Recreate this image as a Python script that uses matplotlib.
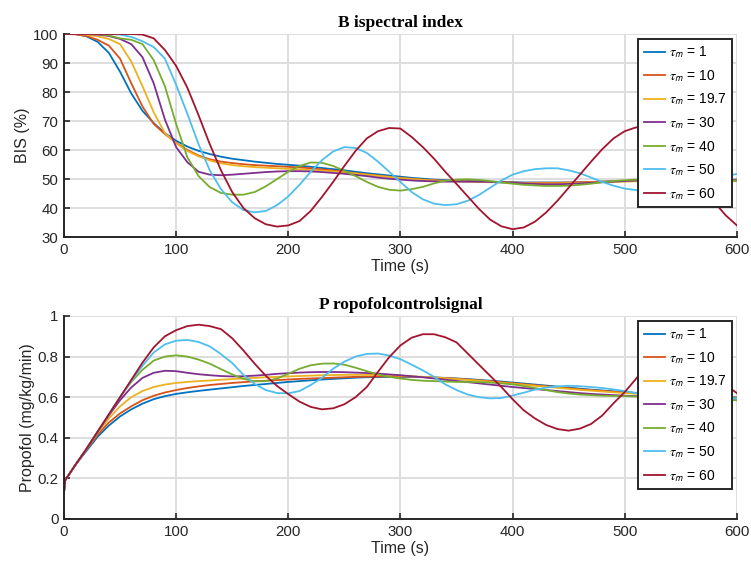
import numpy as np
import matplotlib
matplotlib.use('Agg')
import matplotlib.pyplot as plt

# time grid (s): initial jump at t=0..1, then every 10 s
time_s = np.r_[0, 1, np.arange(10, 601, 10)]

tau_labels = ['1', '10', '19.7', '30', '40', '50', '60']
colors = ['#0072BD', '#D95319', '#EDB120', '#7E2F8E', '#77AC30', '#4DBEEE', '#A2142F']

# ---- Bispectral index (%) ----
bis_tau1 = [100, 100, 100, 99.2, 97.3, 93.5, 87, 79.5, 73.5, 69.3, 65.8, 63.2, 61.2, 59.7, 58.6, 57.7,
            57, 56.5, 56, 55.6, 55.2, 54.9, 54.6, 54.2, 53.8, 53.4, 53, 52.5, 52, 51.6, 51.2, 50.8,
            50.4, 50.1, 49.8, 49.6, 49.4, 49.3, 49.2, 49.1, 49, 48.9, 48.8, 48.8, 48.8, 48.8, 48.8,
            48.9, 49, 49.1, 49.2, 49.3, 49.4, 49.5, 49.6, 49.7, 49.7, 49.8, 49.8, 49.8, 49.8, 49.8]
bis_tau10 = [100, 100, 99.9, 99.3, 98, 96, 91.5, 83, 75, 69, 65.5, 62.5, 60, 58.1, 56.8, 56,
             55.5, 55.1, 54.8, 54.6, 54.4, 54.2, 54, 53.7, 53.3, 52.9, 52.5, 52, 51.6, 51.2, 50.8, 50.4,
             50.1, 49.8, 49.6, 49.4, 49.3, 49.2, 49.1, 49, 48.9, 48.8, 48.7, 48.7, 48.7, 48.7, 48.8,
             48.9, 49, 49.1, 49.2, 49.3, 49.3, 49.4, 49.4, 49.5, 49.5, 49.5, 49.6, 49.6, 49.6, 49.6]
bis_tau19 = [100, 100, 100, 99.8, 99.2, 98.3, 96.5, 90.5, 82, 73, 65.8, 62.3, 59.7, 57.8, 56.4, 55.4,
             54.8, 54.4, 54.1, 53.9, 53.7, 53.5, 53.3, 53.1, 52.9, 52.6, 52.3, 51.9, 51.5, 51.1, 50.7, 50.3,
             50, 49.7, 49.5, 49.3, 49.2, 49.1, 49, 48.9, 48.8, 48.7, 48.6, 48.5, 48.5, 48.5, 48.6,
             48.7, 48.8, 48.9, 49, 49.1, 49.2, 49.2, 49.3, 49.3, 49.4, 49.4, 49.4, 49.5, 49.5, 49.5]
bis_tau30 = [100, 100, 100, 100, 99.8, 99.3, 98.3, 96.5, 92, 83, 70.5, 61, 55.8, 52.5, 51.5, 51.3,
             51.5, 51.8, 52.1, 52.4, 52.6, 52.7, 52.7, 52.6, 52.4, 52.1, 51.8, 51.4, 51, 50.5, 50.1, 49.8,
             49.5, 49.3, 49.2, 49.1, 49.1, 49.1, 49.1, 49, 48.9, 48.7, 48.5, 48.3, 48.2, 48.2, 48.3,
             48.5, 48.7, 48.9, 49.1, 49.3, 49.5, 49.6, 49.7, 49.8, 49.8, 49.8, 49.7, 49.6, 49.5, 49.5]
bis_tau40 = [100, 100, 100, 100, 100, 99.5, 98.5, 98, 96.5, 91, 82, 69, 57.5, 51, 47.2, 45.2,
             44.6, 44.6, 45.5, 47.5, 50, 52.5, 54.5, 55.7, 55.6, 54.5, 52.8, 51, 49, 47.3, 46.3, 46,
             46.5, 47.3, 48.5, 49.4, 49.8, 49.9, 49.7, 49.3, 48.8, 48.4, 48, 47.8, 47.6, 47.6, 47.7,
             48, 48.4, 48.9, 49.3, 49.6, 49.8, 49.9, 50, 50, 49.9, 49.8, 49.7, 49.6, 49.5, 49.4]
bis_tau50 = [100, 100, 100, 100, 100, 100, 99.8, 99, 97.5, 95.5, 91.5, 82.5, 72.5, 62, 53, 46.5,
             42, 39.3, 38.5, 39, 41, 44, 48, 52.5, 56.5, 59.5, 61, 60.7, 59, 56, 52.5, 49,
             45.5, 43, 41.5, 41, 41.3, 42.5, 44.5, 47, 49.5, 51.5, 52.7, 53.4, 53.7, 53.7, 53,
             52, 50.5, 49, 47.7, 46.7, 46.2, 46, 46.2, 46.8, 47.6, 48.6, 49.6, 50.5, 51.2, 51.7]
bis_tau60 = [100, 100, 100, 100, 100, 100, 100, 100, 99.8, 98.5, 94.5, 89, 81.5, 72, 62, 53,
             45.5, 40, 36.5, 34.4, 33.6, 34, 35.5, 39, 43.8, 49, 54.5, 59.7, 64, 66.5, 67.6, 67.4,
             64.5, 61, 57, 52.5, 48.3, 44, 39.7, 36, 33.7, 32.7, 33.3, 35.3, 38.5, 42.5, 47,
             51.5, 56, 60.3, 64, 66.5, 67.8, 67.6, 66, 63, 59, 54.5, 48, 42, 37.5, 34]

# ---- Propofol control signal (mg/kg/min) ----
prop_tau1 = [0.13, 0.19, 0.265, 0.335, 0.405, 0.46, 0.505, 0.54, 0.568, 0.59, 0.605, 0.616, 0.624, 0.631,
             0.637, 0.643, 0.649, 0.655, 0.66, 0.665, 0.67, 0.675, 0.679, 0.683, 0.687, 0.69, 0.693,
             0.696, 0.698, 0.699, 0.7, 0.7, 0.7, 0.699, 0.697, 0.695, 0.692, 0.689, 0.685, 0.681, 0.677,
             0.672, 0.667, 0.662, 0.657, 0.652, 0.647, 0.642, 0.637, 0.633, 0.629, 0.625, 0.621, 0.618,
             0.615, 0.612, 0.609, 0.606, 0.604, 0.602, 0.6, 0.598]
prop_tau10 = [0.13, 0.19, 0.265, 0.34, 0.415, 0.475, 0.52, 0.555, 0.585, 0.607, 0.623, 0.635, 0.645, 0.653,
              0.66, 0.665, 0.67, 0.674, 0.678, 0.681, 0.684, 0.687, 0.69, 0.692, 0.694, 0.696, 0.698,
              0.7, 0.701, 0.702, 0.702, 0.702, 0.701, 0.699, 0.697, 0.694, 0.691, 0.687, 0.683, 0.679,
              0.674, 0.669, 0.664, 0.659, 0.654, 0.649, 0.644, 0.639, 0.635, 0.631, 0.627, 0.623, 0.62,
              0.617, 0.614, 0.611, 0.608, 0.606, 0.604, 0.602, 0.6, 0.598]
prop_tau19 = [0.13, 0.19, 0.265, 0.345, 0.425, 0.495, 0.555, 0.6, 0.63, 0.65, 0.662, 0.67, 0.675, 0.679,
              0.682, 0.686, 0.689, 0.692, 0.695, 0.698, 0.7, 0.702, 0.704, 0.706, 0.708, 0.709, 0.71,
              0.71, 0.71, 0.709, 0.708, 0.706, 0.703, 0.7, 0.697, 0.693, 0.689, 0.685, 0.681, 0.676,
              0.671, 0.666, 0.661, 0.656, 0.651, 0.646, 0.641, 0.636, 0.632, 0.628, 0.624, 0.62, 0.617,
              0.614, 0.611, 0.608, 0.605, 0.603, 0.601, 0.599, 0.597, 0.595]
prop_tau30 = [0.13, 0.19, 0.265, 0.345, 0.43, 0.51, 0.585, 0.648, 0.695, 0.72, 0.73, 0.728, 0.72, 0.713,
              0.708, 0.704, 0.702, 0.703, 0.706, 0.71, 0.715, 0.718, 0.721, 0.723, 0.724, 0.724, 0.723,
              0.721, 0.719, 0.716, 0.712, 0.708, 0.703, 0.698, 0.692, 0.686, 0.68, 0.674, 0.668, 0.662,
              0.656, 0.65, 0.645, 0.64, 0.635, 0.63, 0.625, 0.62, 0.616, 0.613, 0.61, 0.607, 0.605,
              0.603, 0.601, 0.6, 0.598, 0.597, 0.596, 0.595, 0.594, 0.593]
prop_tau40 = [0.13, 0.19, 0.265, 0.345, 0.43, 0.515, 0.6, 0.675, 0.735, 0.78, 0.8, 0.806, 0.8, 0.785,
              0.765, 0.738, 0.712, 0.69, 0.678, 0.679, 0.692, 0.715, 0.74, 0.757, 0.765, 0.766, 0.76,
              0.745, 0.728, 0.712, 0.7, 0.692, 0.685, 0.681, 0.679, 0.677, 0.675, 0.675, 0.674, 0.672,
              0.668, 0.663, 0.655, 0.645, 0.635, 0.625, 0.618, 0.613, 0.61, 0.607, 0.606, 0.605, 0.603,
              0.6, 0.598, 0.596, 0.594, 0.592, 0.59, 0.588, 0.586, 0.585]
prop_tau50 = [0.13, 0.19, 0.265, 0.345, 0.43, 0.515, 0.6, 0.68, 0.755, 0.82, 0.86, 0.878, 0.882, 0.872,
              0.85, 0.812, 0.768, 0.71, 0.665, 0.635, 0.62, 0.619, 0.63, 0.66, 0.695, 0.74, 0.775,
              0.8, 0.813, 0.815, 0.805, 0.787, 0.76, 0.732, 0.7, 0.663, 0.635, 0.613, 0.6, 0.594,
              0.596, 0.608, 0.622, 0.637, 0.647, 0.653, 0.656, 0.654, 0.65, 0.645, 0.638, 0.63, 0.62,
              0.612, 0.605, 0.6, 0.598, 0.598, 0.598, 0.597, 0.596, 0.594]
prop_tau60 = [0.13, 0.19, 0.265, 0.345, 0.43, 0.515, 0.6, 0.685, 0.77, 0.845, 0.9, 0.93, 0.95, 0.957,
              0.95, 0.935, 0.89, 0.83, 0.765, 0.705, 0.655, 0.615, 0.578, 0.552, 0.54, 0.545, 0.565,
              0.6, 0.65, 0.725, 0.797, 0.855, 0.893, 0.91, 0.91, 0.895, 0.87, 0.815, 0.76, 0.705,
              0.65, 0.59, 0.535, 0.495, 0.463, 0.443, 0.435, 0.445, 0.468, 0.51, 0.57, 0.625, 0.69,
              0.76, 0.82, 0.85, 0.85, 0.82, 0.77, 0.71, 0.66, 0.62]

bis_series = [bis_tau1, bis_tau10, bis_tau19, bis_tau30, bis_tau40, bis_tau50, bis_tau60]
prop_series = [prop_tau1, prop_tau10, prop_tau19, prop_tau30, prop_tau40, prop_tau50, prop_tau60]

plt.rcParams['font.family'] = ['Liberation Sans', 'DejaVu Sans']
plt.rcParams['mathtext.fontset'] = 'stix'

fig = plt.figure(figsize=(7.51, 5.63), dpi=100)
ax1 = fig.add_axes([0.0852, 0.579, 0.896, 0.3606])
ax2 = fig.add_axes([0.0852, 0.0782, 0.896, 0.3606])

def style_axes(ax, title, ylabel, ylim, yticks, yticklabels):
    ax.set_xlim(0, 600)
    ax.set_ylim(*ylim)
    ax.set_xticks(np.arange(0, 601, 100))
    ax.set_yticks(yticks)
    ax.set_yticklabels(yticklabels)
    ax.grid(True, color='#dedede', linewidth=1.4)
    ax.set_axisbelow(True)
    for side in ['top', 'right']:
        ax.spines[side].set_visible(False)
    for side in ['left', 'bottom']:
        ax.spines[side].set_color('#262626')
        ax.spines[side].set_linewidth(1.4)
    ax.tick_params(direction='in', length=4, width=1.2, colors='#262626', labelsize=10.8,
                   pad=4, labelcolor='#262626')
    ax.set_xlabel('Time (s)', fontsize=11.5, color='#262626', labelpad=2)
    ax.set_ylabel(ylabel, fontsize=11.5, color='#262626', labelpad=2)
    ax.set_title(title, family='Liberation Serif', fontweight='bold', fontsize=12.5, pad=5)

for vals, col, lab in zip(bis_series, colors, tau_labels):
    ax1.plot(time_s, vals, color=col, linewidth=1.3, label=r'$\tau_{\mathsf{m}}$ = ' + lab)
for vals, col, lab in zip(prop_series, colors, tau_labels):
    ax2.plot(time_s, vals, color=col, linewidth=1.3, label=r'$\tau_{\mathsf{m}}$ = ' + lab)

style_axes(ax1, 'B ispectral index', 'BIS (%)', (30, 100), np.arange(30, 101, 10),
           [str(v) for v in range(30, 101, 10)])
style_axes(ax2, 'P ropofolcontrolsignal', 'Propofol (mg/kg/min)', (0, 1), np.arange(0, 1.01, 0.2),
           ['0', '0.2', '0.4', '0.6', '0.8', '1'])

for ax in (ax1, ax2):
    leg = ax.legend(loc='upper right', fontsize=10, handlelength=1.5, handletextpad=0.3,
                    labelspacing=0.56, borderpad=0.4, borderaxespad=0.35, fancybox=False,
                    framealpha=1, edgecolor='#262626')
    leg.get_frame().set_linewidth(1.4)

fig.savefig('out.png', dpi=100)
